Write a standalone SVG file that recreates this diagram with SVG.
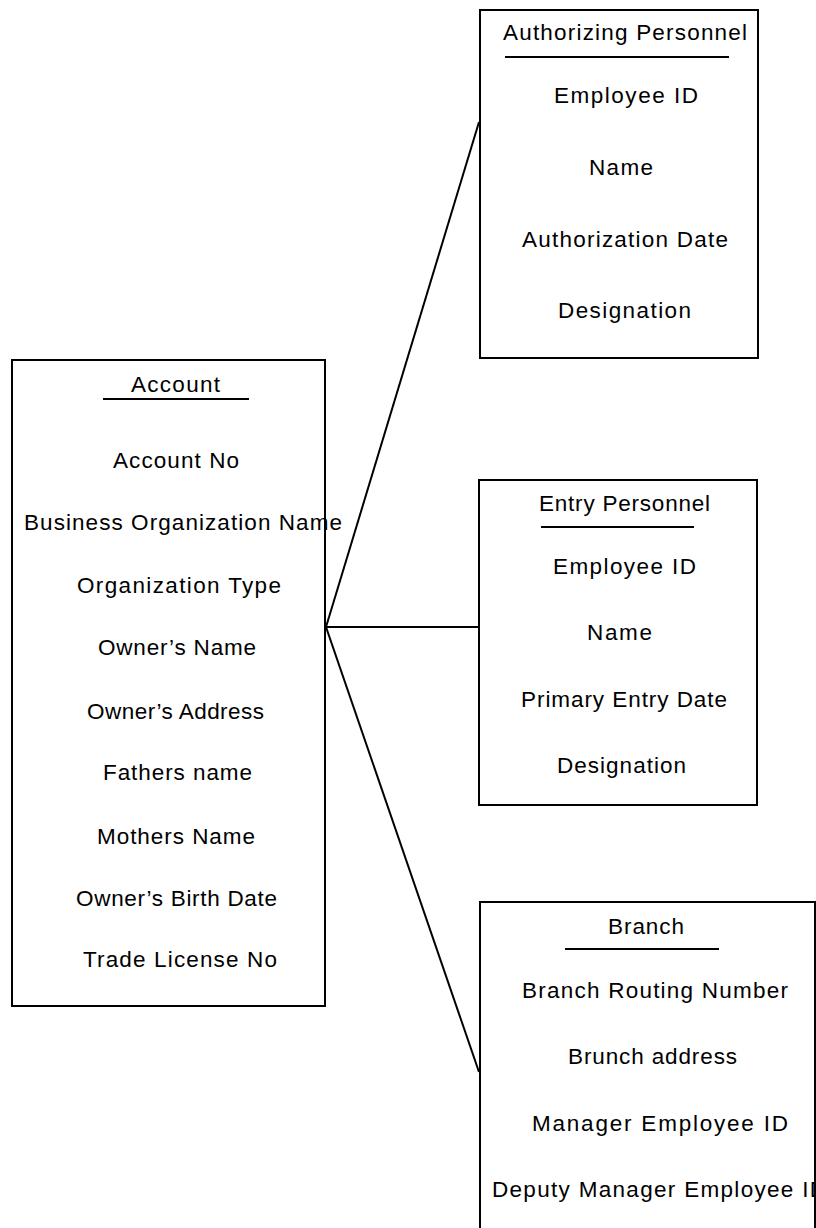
<svg xmlns="http://www.w3.org/2000/svg" width="816" height="1228" viewBox="0 0 816 1228">
<style>
.box{fill:#fff;stroke:#000;stroke-width:2}
.ul{stroke:#000;stroke-width:2}
.conn{stroke:#000;stroke-width:2;fill:none}
text{font-family:"Liberation Sans",Arial,sans-serif;font-size:22.5px;fill:#000;text-anchor:middle}
</style>
<rect width="816" height="1228" fill="#fff"/>
<g id="connectors">
<line class="conn" x1="326" y1="627" x2="479" y2="122"/>
<line class="conn" x1="326" y1="627" x2="479" y2="627"/>
<line class="conn" x1="326" y1="627" x2="479" y2="1072"/>
</g>
<g id="account">
<rect class="box" x="12" y="360" width="313" height="646"/>
<text x="175.5" y="392" textLength="89" lengthAdjust="spacing">Account</text>
<line class="ul" x1="103" y1="399" x2="249" y2="399"/>
<text x="176" y="468" textLength="126" lengthAdjust="spacing">Account No</text>
<text x="183" y="530" textLength="318" lengthAdjust="spacing">Business Organization Name</text>
<text x="179" y="593" textLength="204" lengthAdjust="spacing">Organization Type</text>
<text x="177" y="655" textLength="158" lengthAdjust="spacing">Owner’s Name</text>
<text x="175.5" y="719" textLength="177" lengthAdjust="spacing">Owner’s Address</text>
<text x="177.5" y="780" textLength="149" lengthAdjust="spacing">Fathers name</text>
<text x="176" y="844" textLength="158" lengthAdjust="spacing">Mothers Name</text>
<text x="176.5" y="906" textLength="201" lengthAdjust="spacing">Owner’s Birth Date</text>
<text x="180" y="967" textLength="194" lengthAdjust="spacing">Trade License No</text>
</g>
<g id="authorizing-personnel">
<rect class="box" x="480" y="10" width="278" height="348"/>
<text x="625" y="40" textLength="244" lengthAdjust="spacing">Authorizing Personnel</text>
<line class="ul" x1="505" y1="57" x2="729" y2="57"/>
<text x="626" y="103" textLength="144" lengthAdjust="spacing">Employee ID</text>
<text x="621" y="175" textLength="64" lengthAdjust="spacing">Name</text>
<text x="625" y="247" textLength="206" lengthAdjust="spacing">Authorization Date</text>
<text x="624.5" y="318" textLength="133" lengthAdjust="spacing">Designation</text>
</g>
<g id="entry-personnel">
<rect class="box" x="479" y="480" width="278" height="325"/>
<text x="624.5" y="511" textLength="171" lengthAdjust="spacing">Entry Personnel</text>
<line class="ul" x1="541" y1="527" x2="694" y2="527"/>
<text x="624.5" y="574" textLength="143" lengthAdjust="spacing">Employee ID</text>
<text x="619.5" y="640" textLength="65" lengthAdjust="spacing">Name</text>
<text x="624" y="707" textLength="206" lengthAdjust="spacing">Primary Entry Date</text>
<text x="621.5" y="773" textLength="129" lengthAdjust="spacing">Designation</text>
</g>
<g id="branch">
<rect class="box" x="480" y="902" width="335" height="400"/>
<text x="646" y="934" textLength="76" lengthAdjust="spacing">Branch</text>
<line class="ul" x1="565" y1="949" x2="719" y2="949"/>
<text x="655" y="998" textLength="266" lengthAdjust="spacing">Branch Routing Number</text>
<text x="652.5" y="1064" textLength="169" lengthAdjust="spacing">Brunch address</text>
<text x="660" y="1131" textLength="256" lengthAdjust="spacing">Manager Employee ID</text>
<text x="492" y="1197" textLength="334" lengthAdjust="spacing" style="text-anchor:start">Deputy Manager Employee ID</text>
</g>
</svg>
